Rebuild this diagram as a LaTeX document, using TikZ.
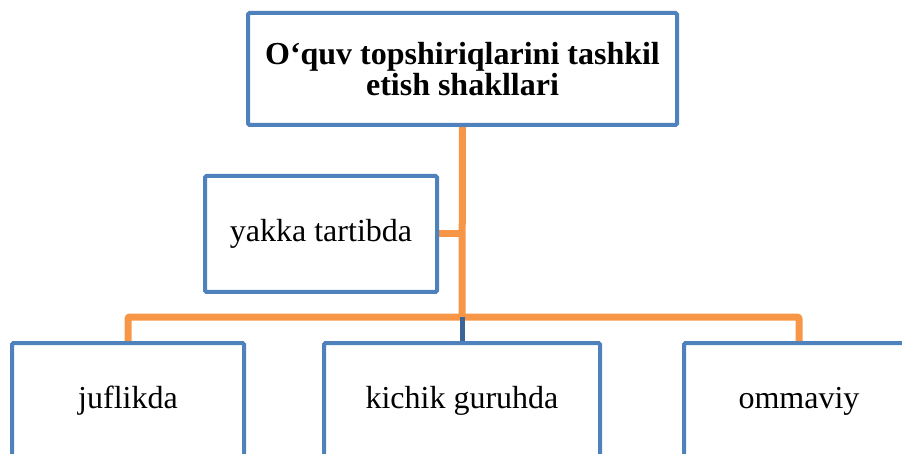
\documentclass[tikz,border=0pt]{standalone}
\usepackage{fontspec}
\setmainfont{Liberation Serif}
\usetikzlibrary{positioning, backgrounds}
\definecolor{boxblue}{HTML}{4F81BD}
\definecolor{linkorange}{HTML}{F79646}
\definecolor{linkblue}{HTML}{3C6496}
\tikzstyle{formbox} = [draw=boxblue, line width=4pt, rounded corners=1.5pt, fill=white, align=center, inner sep=0pt, font=\fontsize{32}{31}\selectfont]
\tikzstyle{link} = [draw=linkorange, line width=7pt, rounded corners=2pt]
\tikzstyle{sublink} = [draw=linkblue, line width=5pt]

\begin{document}
\begin{tikzpicture}[x=1pt, y=-1pt]
    \useasboundingbox (0,0) rectangle (902,454);
    \clip (0,0) rectangle (902,454);

    % Top node (title)
    \node[formbox, minimum width=429pt, minimum height=112pt, font=\fontsize{32}{31}\selectfont\bfseries] (title) at (462.5,69) {O‘quv topshiriqlarini tashkil\\etish shakllari};

    % Side node
    \node[formbox, minimum width=232pt, minimum height=116pt] (yakka) at (321,234) {yakka tartibda};

    % Bottom row
    \node[formbox, minimum width=232pt, minimum height=116pt] (juft) at (128,401) {juflikda};
    \node[formbox, minimum width=276pt, minimum height=116pt] (kichik) at (462,401) {kichik guruhda};
    \node[formbox, minimum width=230pt, minimum height=116pt] (ommaviy) at (799,401) {ommaviy};

    \coordinate (fork) at (462,317);

    % Connectors behind the boxes
    \begin{scope}[on background layer]
        \draw[link] (title.south) -- (fork);
        \draw[link] (yakka.east) -- (yakka.east -| fork);
        \draw[link] (juft.north) |- (fork) -| (ommaviy.north);
        \draw[sublink] (fork) -- (kichik.north);
    \end{scope}
\end{tikzpicture}
\end{document}
